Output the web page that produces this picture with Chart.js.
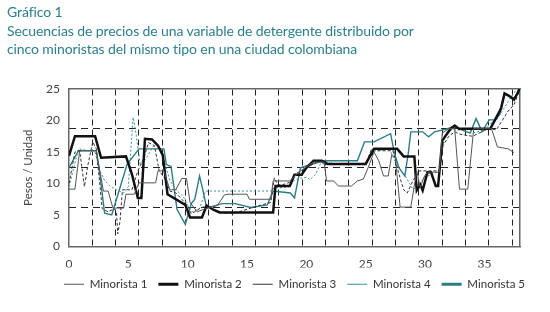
<!DOCTYPE html>
<html><head><meta charset="utf-8">
<script src="https://cdn.jsdelivr.net/npm/chart.js@4/dist/chart.umd.min.js"></script>
<style>
html,body{margin:0;padding:0;background:#fff;}
#wrap{position:relative;width:550px;height:312px;overflow:hidden;}
#c{position:absolute;left:0;top:0;}
#title{position:absolute;left:7px;top:3px;font-family:Lato,"Open Sans",sans-serif;font-size:14px;line-height:18.5px;color:#2c7f8c;white-space:nowrap;letter-spacing:-0.1px;}
</style></head>
<body>
<div id="wrap">
<canvas id="c" width="550" height="312"></canvas>
<div id="title">Gráfico 1<br>Secuencias de precios de una variable de detergente distribuido por<br>cinco minoristas del mismo tipo en una ciudad colombiana</div>
</div>
<script>
const seriesNames = ["Minorista 1","Minorista 2","Minorista 3","Minorista 4","Minorista 5"];
const xTicks = [0,5,10,15,20,25,30,35];
const yTicks = [0,5,10,15,20,25];

const x1 = [0,0.5,0.9,2.3,2.9,3.3,3.7,4.6,4.8,5.5,5.9,7.3,7.5,8.0,8.5,9.0,9.5,9.9,10.2,10.8,11.5,12.5,13.1,13.4,15.0,15.2,17.0,17.2,18.6,19.5,20.6,21.5,21.7,22.3,22.7,23.8,24.3,24.8,25.2,25.7,26.1,26.5,26.9,27.2,27.5,27.9,28.8,29.3,29.6,29.9,30.2,31.2,31.45,32.0,32.5,32.9,33.6,34.1,35.6,36.1,37.0,37.5];
const y1 = [9.1,9.1,15.2,15.2,8.8,8.8,6.1,6.1,8.3,8.3,10.1,10.1,12.0,12.0,9.0,9.0,10.8,10.8,7.0,5.5,6.0,6.5,8.2,8.3,8.3,7.5,7.5,10.4,10.4,12.0,13.4,13.4,10.4,10.4,9.6,9.6,10.4,10.7,12.5,15.0,13.6,11.2,11.2,14.6,14.0,6.25,6.25,12.0,9.3,11.0,11.8,11.8,18.0,18.7,18.7,9.1,9.1,18.7,18.7,15.8,15.5,14.9];

const x2 = [0,0.5,2.2,2.7,4.8,5.3,5.8,6.1,6.4,7.0,7.5,7.9,8.3,9.8,10.2,11.2,11.6,12.2,12.7,17.2,17.4,18.6,19.0,19.6,20.0,20.6,21.3,21.8,25.0,25.7,27.65,28.2,29.1,29.3,29.6,29.8,30.2,30.5,30.9,31.1,31.45,32.15,32.5,32.85,35.5,35.95,36.4,36.7,37.0,37.5,38];
const y2 = [14.4,17.5,17.5,14.1,14.3,11.5,7.7,7.7,17.1,17.0,16,14.5,8.3,6.6,4.6,4.6,6.5,5.8,5.4,5.4,9.6,9.6,11.4,11.4,12.5,13.6,13.6,13.1,13.1,15.5,15.5,14.3,14.3,8.9,9.8,8.9,11.8,11.8,9.6,9.6,16.8,18.7,19.2,18.7,18.7,20.3,21.9,24.3,24.0,23.3,25.1];

const x3 = [0,0.5,0.9,1.3,1.6,2.0,2.3,2.8,3.3,3.8,4.0,4.1,4.3,4.5,5.3,5.8,6.3,6.7,7.2,7.6,8.0,8.5,9.0,9.5,10.0,10.3,11.0,11.6,12.3,13.0,14.0,15.5,17.0,17.3,17.6,18.0,18.6,19.2,19.6,20.5,21.0,22.0,25.0,25.5,26.0,27.3,27.8,28.2,28.5,29.0,29.5,30.5,31.2,31.5,32.0,32.5,33.0,34.0,35.0,35.5,36.0,36.5,37.0,37.5,38];
const y3 = [10.0,15.0,15.2,9.5,13,16.6,15.5,6.0,5.5,6.0,5.5,2.0,4,9.0,9.0,12.0,14.0,16.5,16.0,12,11,8.8,8.5,7.5,6.5,5.2,6.0,6.5,5.8,5.3,5.3,6.2,7.0,10.9,9.8,9.8,10.2,11.7,12.0,13.0,13.6,13.2,13.0,15.5,15.2,15.2,11.5,9.0,8.5,10.5,12.0,12.0,12.0,16.0,17.5,18.2,17.8,17.5,18.4,18.7,18.5,20.0,21.5,22.5,25];

const x4 = [0,0.8,2.2,2.6,3.0,3.5,4.0,4.6,5.0,5.4,5.6,6.0,6.5,7.3,7.8,8.1,8.5,9.0,9.6,10.0,10.4,11.0,11.5,17.0,17.4,17.7,18.6,19.0,19.4,20.0,20.3,20.8,21.2,22.0,25.0,25.4,27.0,27.6,28.0,28.4,29.0,30.0,31.2,31.6,32.0,33.0,34.0,35.0,35.5,36.0,36.5,37.0,37.5,38];
const y4 = [9.5,15.5,15.0,12.0,10.5,9.5,9.0,8.5,9.5,20.5,18.5,13.0,14,16.5,15.0,13.0,10.5,9.0,8.0,6.5,5.5,6.0,8.8,8.8,9.5,9.3,9.5,10.5,10.8,11.0,10.6,11.5,13.2,13.0,13.0,15,15.5,13,12,11,9,11,12,17,18.5,18.5,18.0,18.5,19.5,20.0,21.5,23,24.5,25];

const x5 = [0,0.8,2.3,2.6,3.0,3.6,4.0,4.9,5.9,8.0,8.2,8.6,9.1,9.8,10.3,10.6,11.0,11.3,11.6,12.9,14.0,15.3,16.7,17.2,18.65,19.0,19.5,20.5,21.5,24.3,24.9,25.7,27.1,27.4,27.8,28.3,28.6,28.8,29.8,30.3,30.8,31.7,32.4,33.0,33.8,34.3,34.5,34.8,35.4,35.95,36.3,36.7,36.95,37.5,38];
const y5 = [12.5,15.2,15.2,11.5,5.3,5.0,7.5,13.1,15.5,15.5,13,12.7,5.9,3.5,6.8,7.5,11.2,8.8,6.1,6.8,6.8,6.2,6.6,8.8,8.5,7.7,12.5,13.1,13.6,13.6,16.6,16.6,17.9,14.95,12.5,11.2,15,18.2,18.2,17.4,18.2,18.6,19.0,18.6,18.0,20.3,19.5,18.2,20.1,20.1,21,24.3,24.0,23.6,24.6];

function pts(xs, ys){ return xs.map((x,i)=>({x:x, y:ys[i]})); }

const FONT = 'Lato, "Open Sans", sans-serif';
const ds = [
  {label:seriesNames[0], data:pts(x1,y1), borderColor:'#555555', borderWidth:1, borderDash:[]},
  {label:seriesNames[1], data:pts(x2,y2), borderColor:'#111111', borderWidth:2.5, borderDash:[]},
  {label:seriesNames[2], data:pts(x3,y3), borderColor:'#333333', borderWidth:1, borderDash:[3,2]},
  {label:seriesNames[3], data:pts(x4,y4), borderColor:'#3b8d94', borderWidth:1, borderDash:[2,2]},
  {label:seriesNames[4], data:pts(x5,y5), borderColor:'#2c7c84', borderWidth:1.4, borderDash:[]}
].map(d=>Object.assign(d,{pointRadius:0, tension:0, fill:false}));

const legendShift = {
  id:'legendShift',
  afterLayout(chart){
    const lg = chart.legend; const ca = chart.chartArea;
    if(lg){ lg.left = ca.left - 60; lg.right = ca.right + 60; lg.width = lg.right - lg.left; }
  }
};

new Chart(document.getElementById('c'), {
  type:'line',
  data:{datasets:ds},
  plugins:[legendShift],
  options:{
    responsive:false, animation:false, devicePixelRatio:1,
    layout:{padding:{left:0,right:0,top:0,bottom:12}},
    plugins:{
      title:{display:false}, tooltip:{enabled:false},
      legend:{
        display:true, position:'bottom', fullSize:true,
        labels:{
          usePointStyle:true, pointStyle:'line', pointStyleWidth:20, boxHeight:11,
          padding:11, color:'#333', font:{family:FONT, size:11.5},
          generateLabels:(chart)=>{
            const items = Chart.defaults.plugins.legend.labels.generateLabels(chart);
            items.forEach((it,i)=>{ it.pointStyle='line'; if(i===1) it.lineWidth=3; if(i===4) it.lineWidth=3; });
            return items;
          }
        }
      }
    },
    scales:{
      x:{
        type:'linear', position:'bottom', min:0, max:38,
        afterBuildTicks:(s)=>{ s.ticks = xTicks.map(v=>({value:v})); },
        afterFit:(s)=>{ s.height = 21; },
        grid:{display:false, drawTicks:false},
        border:{display:true, color:'#666', width:1.5},
        ticks:{padding:10, color:'#444', font:{family:FONT, size:12}, maxRotation:0, autoSkip:false}
      },
      xg:{
        type:'linear', position:'top', min:0, max:19.33,
        afterBuildTicks:(s)=>{ const t=[]; for(let i=1;i<=19;i++) t.push({value:i}); s.ticks=t; },
        afterFit:(s)=>{ s.height = 89; },
        grid:{display:true, drawTicks:false, drawOnChartArea:true, color:'#222', lineWidth:1},
        border:{display:true, color:'#666', width:1.5, dash:[6,4]},
        ticks:{display:false}
      },
      y:{
        type:'linear', position:'left', min:0, max:25,
        afterBuildTicks:(s)=>{ s.ticks = yTicks.map(v=>({value:v})); },
        afterFit:(s)=>{ s.width = 69; },
        grid:{display:false, drawTicks:false},
        border:{display:true, color:'#666', width:1.5},
        ticks:{padding:9, color:'#444', font:{family:FONT, size:12}},
        title:{display:true, text:'Pesos / Unidad', color:'#444', font:{family:FONT, size:11.5}, padding:{top:21,bottom:0}}
      },
      yg:{
        type:'linear', position:'right', min:0, max:4,
        afterBuildTicks:(s)=>{ s.ticks=[{value:1},{value:2},{value:3}]; },
        afterFit:(s)=>{ s.width = 30; },
        grid:{display:true, drawTicks:false, drawOnChartArea:true, color:'#222', lineWidth:1},
        border:{display:true, color:'#666', width:1.5, dash:[7,5]},
        ticks:{display:false}
      }
    }
  }
});
</script>
</body></html>
